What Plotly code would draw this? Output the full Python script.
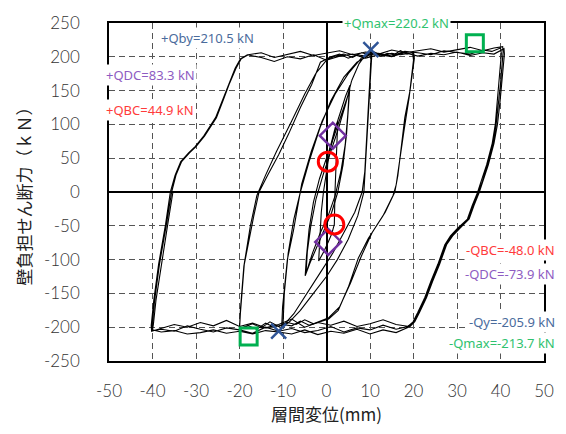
import plotly.graph_objects as go

# ---- hysteresis record: storey drift (mm) vs. wall shear (kN) ----
# initial loading and the small +/-2.5 mm cycle
disp_c1 = [0, 0.3, 0.8, 1.45, 2.0, 2.6, 2.4, 2.1, 1.95, 1.8, 1.2, 0.4, -0.6, -1.8,
           -1.6, -1.2, -0.7, 0.0, 0.6, 1.4, 2.1, 2.7]
load_c1 = [0, 45, 65, 83, 95, 106, 80, 35, 0, -48, -62, -74, -88, -102,
           -70, -30, 0, 30, 55, 78, 95, 108]

# +/-5 mm cycles
disp_c2 = [2.7, 3.5, 4.4, 5.4, 5.1, 4.6, 3.8, 2.6, 1.2, -0.5, -2.2, -3.8, -4.9,
           -4.6, -4.0, -3.0, -1.6, 0.0, 1.6, 3.0, 4.2, 5.2, 4.9, 4.3, 3.3, 2.0,
           0.4, -1.4, -3.2, -4.7, -4.4, -3.6, -2.4, -0.8, 1.0, 2.8, 4.4, 5.8]
load_c2 = [108, 125, 142, 158, 125, 85, 40, 0, -30, -55, -80, -105, -124,
           -95, -55, -15, 20, 50, 80, 105, 128, 148, 115, 70, 30, -5,
           -35, -60, -90, -120, -88, -50, -10, 25, 60, 95, 130, 165]

# +/-10 mm cycles
disp_c3 = [5.8, 7.5, 9.0, 10.5, 10.2, 9.6, 9.0, 8.6, 7.2, 5.0, 2.5, 0.0, -3.0, -6.0,
           -8.5, -10.3, -10.1, -9.0, -7.6, -5.7, -3.5, -1.0, 2.0, 5.0, 8.0, 10.3,
           10.0, 9.3, 8.8, 8.2, 6.5, 4.0, 1.5, -1.5, -4.5, -7.5, -10.0,
           -9.7, -8.8, -7.5, -6.0, -4.0, -1.5, 1.0, 4.0, 7.0, 10.0]
load_c3 = [165, 190, 203, 210, 180, 110, 40, 0, -35, -70, -100, -125, -150, -175,
           -192, -200, -170, -100, -57, 12, 60, 105, 145, 175, 198, 207,
           170, 90, 30, 0, -30, -60, -90, -120, -150, -180, -198,
           -150, -90, -40, 0, 45, 95, 135, 170, 192, 203]

# +/-20 mm cycles
disp_c4 = [10.0, 11, 12.5, 14, 15.5, 17, 18.5, 20.0,
           20.2, 19.2, 18.0, 17.0, 16.4, 15.7, 13.5, 11.5, 9.6, 7.3, 5.0, 2.7, 0.5,
           -2, -4, -6, -8, -10, -12, -14, -16, -18, -20.0,
           -19.8, -18.9, -16.7, -15.5, -13.5, -11, -8.7, -6, -3.4, -1.4, 1,
           3, 5, 7, 9, 11, 13, 15, 17, 19.8,
           20.0, 19.0, 17.8, 16.8, 16.0, 15.3, 13, 10.5, 8, 5.5, 3, 0.5,
           -3, -5, -7, -9, -11, -13, -15, -17, -20,
           -19.8, -19.0, -17.5, -16.0, -14, -11.5, -8, -5, -2.5, 0, 2]
load_c4 = [203, 206, 201, 205, 203, 209, 204, 207,
           198, 150, 110, 60, 24, 0, -30, -50, -69, -98, -141, -175, -188,
           -193, -197, -191, -198, -196, -200, -194, -203, -198, -204,
           -180, -107, -35, 0, 25, 55, 86, 125, 159, 192, 200,
           204, 198, 203, 201, 207, 202, 205, 203, 206,
           195, 140, 90, 45, 10, -5, -35, -60, -95, -135, -170, -186,
           -195, -189, -196, -193, -199, -192, -201, -195, -202,
           -175, -110, -50, -5, 25, 60, 105, 145, 175, 195, 201]

# +/-40 mm cycles
disp_c5 = [2, 4, 6, 8, 10, 12, 15, 18, 21, 24, 27, 30, 33, 36, 38, 40.0,
           40.2, 39.6, 39.3, 38.8, 38.1, 36.8, 35.5, 34.7, 33.5, 32.4, 30.1, 28.5,
           27.2, 25.6, 24.0, 22.6, 21.0, 19.9, 18.7,
           16, 13, 10, 7, 4, 1, -2, -5, -8, -11, -14, -17, -20, -23, -26, -29,
           -32, -35, -38, -40.0,
           -40.1, -39.5, -38.4, -36.8, -35.6, -34.6, -33.3, -31.5, -30.0, -28.0,
           -25.3, -23.8, -22.4, -20.8, -19.6, -18.0,
           -15, -12, -9, -6, -3, 0, 3, 6, 9, 12, 15, 18, 21, 24, 27, 30, 33, 36,
           38.5, 40.5,
           40.6, 40.0, 39.6, 39.0, 38.3, 37.0, 35.8, 34.9, 33.7, 32.6, 30.4, 28.8,
           27.4, 25.8, 24.2, 22.8, 21.2, 20.1, 19.0,
           16, 13, 10, 7, 4, 1, -2, -5, -8, -11, -14, -17, -20, -23, -26, -29,
           -32, -35, -38, -40.2,
           -40.3, -39.7, -38.6, -37.0, -35.9, -34.8, -33.5, -31.7, -30.2, -28.2,
           -25.5, -24.0, -22.6, -21.0, -19.8, -18.2,
           -15, -12, -9, -6, -3, 0, 3, 6, 9, 12, 15, 18, 21, 24, 27, 30, 33, 36,
           38.5, 40.8,
           40.9, 40.3, 39.9, 39.3, 38.5, 37.2, 36.0, 35.1, 33.9, 32.8, 30.6, 29.0,
           27.6, 26.0, 24.4, 23.0, 21.4, 20.3, 19.2,
           16, 13, 10, 7, 4, 1, -2, -5, -8, -11, -14, -17, -20, -23, -26, -29,
           -32, -35, -38, -40.0,
           -39.8, -39.2, -38.0, -36.5, -35.3]
load_c5 = [201, 204, 199, 206, 203, 205, 201, 208, 206, 203, 209, 206, 204, 210, 208, 213,
           205, 160, 134, 100, 72, 40, 15, -1, -20, -40, -54, -65,
           -78, -107, -132, -156, -178, -192, -199,
           -203, -197, -204, -201, -207, -199, -205, -208, -202, -206, -200, -209,
           -204, -201, -207, -203, -198, -206, -203, -205,
           -198, -160, -107, -48, 0, 25, 45, 58, 67, 83,
           110, 135, 159, 183, 197, 203,
           206, 199, 204, 208, 202, 205, 209, 203, 207, 204, 210, 206, 209, 212,
           207, 211, 214, 209, 213, 215,
           207, 160, 134, 100, 72, 40, 15, -1, -20, -40, -54, -65,
           -78, -107, -132, -156, -178, -192, -199,
           -196, -189, -195, -199, -191, -197, -193, -200, -188, -196, -201, -194,
           -199, -190, -198, -193, -200, -196, -202, -206,
           -198, -160, -107, -48, 0, 25, 45, 58, 67, 83,
           110, 135, 159, 183, 197, 203,
           199, 193, 200, 197, 203, 195, 201, 204, 198, 203, 200, 206, 201, 205,
           203, 207, 202, 206, 204, 212,
           204, 160, 134, 100, 72, 40, 15, -1, -20, -40, -54, -65,
           -78, -107, -132, -156, -178, -192, -199,
           -208, -204, -210, -203, -209, -206, -211, -204, -210, -207, -205, -210,
           -206, -209, -204, -208, -210, -205, -207, -204,
           -196, -160, -107, -48, 0]

# characteristic points
qmax_x, qmax_y = [34.1, -17.9], [220.2, -213.7]
qy_x, qy_y = [10.2, -11.0], [210.5, -205.9]
qdc_x, qdc_y = [1.45, 0.4], [83.3, -73.9]
qbc_x, qbc_y = [0.3, 1.8], [44.9, -48.0]

# axis ticks
x_ticks = [-50, -40, -30, -20, -10, 0, 10, 20, 30, 40, 50]
x_tick_text = ["-50", "-40", "-30", "-20", "-10", "0", "10", "20", "30", "40", "50"]
y_ticks = [-250, -200, -150, -100, -50, 0, 50, 100, 150, 200, 250]
y_tick_text = ["-250", "-200", "-150", "-100", "-50", "0", "50", "100", "150", "200", "250"]

labels = [
    # text, x (paper), y (paper), anchor, colour
    ("+Qby=210.5 kN", 0.116, 0.956, "left", "#4a6b9c"),
    ("+QDC=83.3 kN", -0.011, 0.846, "left", "#8e5cc2"),
    ("+QBC=44.9 kN", -0.011, 0.744, "left", "#ff3b3b"),
    ("+Qmax=220.2 kN", 0.661, 1.0, "center", "#2fc26e"),
    ("-QBC=-48.0 kN", 1.030, 0.3285, "right", "#ff3b3b"),
    ("-QDC=-73.9 kN", 1.030, 0.256, "right", "#8e5cc2"),
    ("-Qy=-205.9 kN", 1.030, 0.116, "right", "#4a6b9c"),
    ("-Qmax=-213.7 kN", 1.030, 0.052, "right", "#2fc26e"),
]

fig = go.Figure()

for dx, fy in [(disp_c1, load_c1), (disp_c2, load_c2), (disp_c3, load_c3),
               (disp_c4, load_c4), (disp_c5, load_c5)]:
    fig.add_trace(go.Scatter(x=dx, y=fy, mode="lines",
                             line=dict(color="black", width=1.1),
                             showlegend=False, hoverinfo="skip"))

fig.add_trace(go.Scatter(x=qmax_x, y=qmax_y, mode="markers", showlegend=False,
                         marker=dict(symbol="square-open", size=17, color="#00b050",
                                     line=dict(width=3, color="#00b050"))))
fig.add_trace(go.Scatter(x=qy_x, y=qy_y, mode="markers", showlegend=False,
                         marker=dict(symbol="x-thin-open", size=15, color="#2f5597",
                                     line=dict(width=2.5, color="#2f5597"))))
fig.add_trace(go.Scatter(x=qdc_x, y=qdc_y, mode="markers", showlegend=False,
                         marker=dict(symbol="diamond-open", size=20, color="#7030a0",
                                     line=dict(width=2.5, color="#7030a0"))))
fig.add_trace(go.Scatter(x=qbc_x, y=qbc_y, mode="markers", showlegend=False,
                         marker=dict(symbol="circle-open", size=19, color="#ff0000",
                                     line=dict(width=3, color="#ff0000"))))

for text, ax_x, ax_y, anchor, col in labels:
    fig.add_annotation(x=ax_x, y=ax_y, xref="paper", yref="paper", text=text,
                       showarrow=False, xanchor=anchor, yanchor="middle",
                       bgcolor="white", borderpad=1,
                       font=dict(family="Noto Sans", size=13, color=col))

axis_common = dict(
    showgrid=True, gridcolor="#555555", gridwidth=1, griddash="6px,4px",
    zeroline=True, zerolinecolor="black", zerolinewidth=1.5,
    showline=True, linecolor="black", linewidth=1.5, mirror=True,
    ticks="", tickfont=dict(family="Lato", size=17, color="#333333", weight=300),
)

fig.update_xaxes(range=[-50, 50], tickmode="array", tickvals=x_ticks, ticktext=x_tick_text,
                 ticklabelstandoff=14,
                 title=dict(text="層間変位(mm)", standoff=6,
                            font=dict(family="Noto Sans CJK JP", size=17, color="#222222")),
                 **axis_common)
fig.update_yaxes(range=[-250, 250], tickmode="array", tickvals=y_ticks, ticktext=y_tick_text,
                 ticklabelstandoff=24,
                 title=dict(text="壁負担せん断力（ｋＮ）", standoff=8,
                            font=dict(family="Noto Sans CJK JP", size=17, color="#222222")),
                 **axis_common)

fig.update_layout(width=566, height=434, margin=dict(l=109, r=19, t=17, b=73),
                  plot_bgcolor="white", paper_bgcolor="white")

fig.write_html("out.html")
